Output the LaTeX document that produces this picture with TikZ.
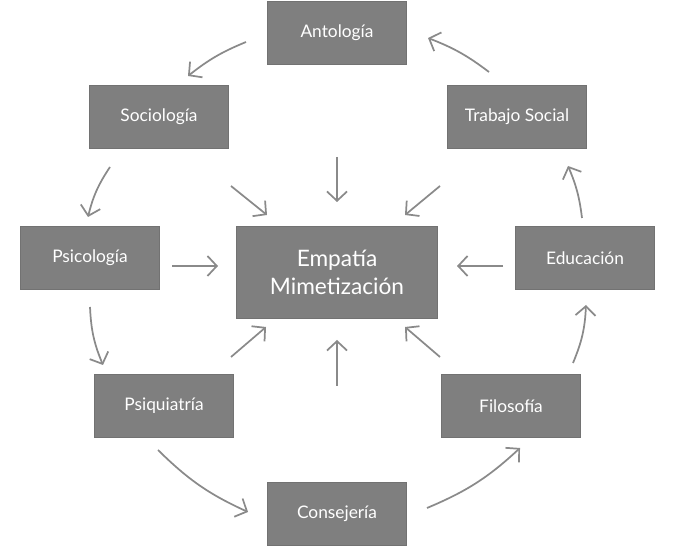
\documentclass[tikz,border=0pt]{standalone}
\usepackage{fontspec}
\setmainfont{Lato}
\usetikzlibrary{arrows.meta}
\definecolor{box}{HTML}{7F7F7F}
\definecolor{arr}{HTML}{8A8A8A}
\begin{document}
\begin{tikzpicture}[x=0.75pt,y=-0.75pt,
  b/.style={fill=box,draw=box!90!black,line width=0.6pt,text=white,minimum width=104pt,minimum height=47pt,inner sep=0pt,font=\fontsize{13}{15}\selectfont},
  a/.style={draw=arr,line width=1.3pt,-{Straight Barb[length=7pt,width=15pt,line width=1.3pt]}}]
\useasboundingbox (0,0) rectangle (675,548);
\node[b] (ant) at (337,33) {Antología};
\node[b] (soc) at (159,117) {Sociología};
\node[b] (tra) at (517,117) {Trabajo Social};
\node[b] (psi) at (90,258) {Psicología};
\node[b] (edu) at (585,258) {Educación};
\node[b] (pqu) at (164,406) {Psiquiatría};
\node[b] (fil) at (511,406) {Filosofía};
\node[b] (con) at (337,514) {Consejería};
\node[b,minimum width=151pt,minimum height=69pt,font=\fontsize{17}{21}\selectfont,align=center] (emp) at (337,272) {Empatía\\Mimetización};
% outer cycle
\coordinate (a1) at (246,42); \coordinate (a2) at (188,76);
\coordinate (b1) at (110,167); \coordinate (b2) at (88,217);
\coordinate (c1) at (90,307); \coordinate (c2) at (103,365);
\coordinate (d1) at (158,450); \coordinate (d2) at (248,512);
\coordinate (e1) at (427,508); \coordinate (e2) at (520,448);
\coordinate (f1) at (573,363); \coordinate (f2) at (586,305);
\coordinate (g1) at (582,218); \coordinate (g2) at (568,166);
\coordinate (h1) at (489,72); \coordinate (h2) at (428,38);
\draw[a] (a1) to[bend right=8] (a2);
\draw[a] (b1) to[bend right=10] (b2);
\draw[a] (c1) to[bend right=10] (c2);
\draw[a] (d1) to[bend right=10] (d2);
\draw[a] (e1) to[bend right=10] (e2);
\draw[a] (f1) to[bend right=10] (f2);
\draw[a] (g1) to[bend right=8] (g2);
\draw[a] (h1) to[bend right=8] (h2);
% inner
\coordinate (i1) at (231,186); \coordinate (i2) at (267,215);
\coordinate (j1) at (337,157); \coordinate (j2) at (337,202);
\coordinate (k1) at (440,186); \coordinate (k2) at (405,215);
\coordinate (l1) at (172,266); \coordinate (l2) at (218,266);
\coordinate (m1) at (503,266); \coordinate (m2) at (457,266);
\coordinate (n1) at (231,357); \coordinate (n2) at (266,327);
\coordinate (o1) at (337,386); \coordinate (o2) at (337,340);
\coordinate (p1) at (440,357); \coordinate (p2) at (405,327);
\foreach \s/\t in {i1/i2,j1/j2,k1/k2,l1/l2,m1/m2,n1/n2,o1/o2,p1/p2}
  \draw[a] (\s) -- (\t);
\end{tikzpicture}
\end{document}
